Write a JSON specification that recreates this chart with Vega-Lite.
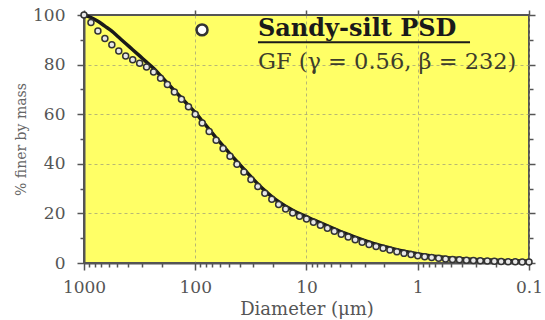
{
  "$schema": "https://vega.github.io/schema/vega-lite/v6.json",
  "width": 445,
  "height": 248,
  "autosize": {"type": "none"},
  "padding": {"left": 84, "top": 15, "right": 16, "bottom": 57},
  "background": "white",
  "config": {
    "view": {"fill": "#FFFF66", "stroke": "#555555", "strokeWidth": 2},
    "font": "DejaVu Serif"
  },
  "datasets": {
    "psd": [
      {"d": 1000, "data": 100, "gf": 100},
      {"d": 866, "data": 97, "gf": 99},
      {"d": 750, "data": 93.5, "gf": 97.5},
      {"d": 649, "data": 90.5, "gf": 95.5},
      {"d": 562, "data": 88, "gf": 93.5},
      {"d": 487, "data": 85.5, "gf": 91},
      {"d": 422, "data": 83.5, "gf": 88.5},
      {"d": 365, "data": 82, "gf": 86},
      {"d": 316, "data": 80.5, "gf": 83.5},
      {"d": 274, "data": 79, "gf": 81},
      {"d": 237, "data": 77, "gf": 78.5},
      {"d": 205, "data": 74.5, "gf": 75.5},
      {"d": 178, "data": 72, "gf": 72.5},
      {"d": 154, "data": 69, "gf": 69.5},
      {"d": 133, "data": 66, "gf": 66.5},
      {"d": 115, "data": 63, "gf": 63.5},
      {"d": 100, "data": 60, "gf": 60.7},
      {"d": 86.6, "data": 56.5, "gf": 57.3},
      {"d": 75, "data": 53, "gf": 53.9},
      {"d": 64.9, "data": 49.5, "gf": 50.5},
      {"d": 56.2, "data": 46.2, "gf": 47.2},
      {"d": 48.7, "data": 43, "gf": 44},
      {"d": 42.2, "data": 39.8, "gf": 40.9},
      {"d": 36.5, "data": 36.7, "gf": 37.8},
      {"d": 31.6, "data": 33.7, "gf": 34.8},
      {"d": 27.4, "data": 30.8, "gf": 31.9},
      {"d": 23.7, "data": 28.1, "gf": 29.2},
      {"d": 20.5, "data": 25.7, "gf": 26.8},
      {"d": 17.8, "data": 23.6, "gf": 24.7},
      {"d": 15.4, "data": 21.8, "gf": 22.9},
      {"d": 13.3, "data": 20.2, "gf": 21.3},
      {"d": 11.55, "data": 18.9, "gf": 19.9},
      {"d": 10, "data": 17.7, "gf": 18.7},
      {"d": 8.66, "data": 16.4, "gf": 17.4},
      {"d": 7.5, "data": 15.2, "gf": 16.2},
      {"d": 6.49, "data": 14, "gf": 15},
      {"d": 5.62, "data": 12.8, "gf": 13.8},
      {"d": 4.87, "data": 11.6, "gf": 12.6},
      {"d": 4.22, "data": 10.5, "gf": 11.5},
      {"d": 3.65, "data": 9.4, "gf": 10.4},
      {"d": 3.16, "data": 8.4, "gf": 9.4},
      {"d": 2.74, "data": 7.5, "gf": 8.5},
      {"d": 2.37, "data": 6.7, "gf": 7.6},
      {"d": 2.05, "data": 5.9, "gf": 6.8},
      {"d": 1.78, "data": 5.2, "gf": 6.1},
      {"d": 1.54, "data": 4.5, "gf": 5.4},
      {"d": 1.33, "data": 3.9, "gf": 4.8},
      {"d": 1.15, "data": 3.4, "gf": 4.2},
      {"d": 1, "data": 2.9, "gf": 3.7},
      {"d": 0.866, "data": 2.5, "gf": 3.2},
      {"d": 0.75, "data": 2.2, "gf": 2.8},
      {"d": 0.649, "data": 1.9, "gf": 2.5},
      {"d": 0.562, "data": 1.65, "gf": 2.2},
      {"d": 0.487, "data": 1.45, "gf": 2},
      {"d": 0.422, "data": 1.3, "gf": 1.8},
      {"d": 0.365, "data": 1.15, "gf": 1.6},
      {"d": 0.316, "data": 1, "gf": 1.45},
      {"d": 0.274, "data": 0.9, "gf": 1.3},
      {"d": 0.237, "data": 0.8, "gf": 1.2},
      {"d": 0.205, "data": 0.7, "gf": 1.1},
      {"d": 0.178, "data": 0.62, "gf": 1},
      {"d": 0.154, "data": 0.55, "gf": 0.95},
      {"d": 0.133, "data": 0.5, "gf": 0.9},
      {"d": 0.115, "data": 0.45, "gf": 0.85},
      {"d": 0.1, "data": 0.4, "gf": 0.8}
    ],
    "legpt": [{"d": 86.9, "pct": 94}],
    "legtitle": [{"d": 27.3, "pct": 94.5, "label": "Sandy-silt PSD"}],
    "legsub": [{"d": 27.3, "pct": 81, "label": "GF (γ = 0.56, β = 232)"}],
    "legline": [{"d": 27.3, "d2": 0.339, "pct": 89.0}]
  },
  "layer": [
    {
      "data": {"name": "psd"},
      "mark": {"type": "line", "color": "#1a1a1a", "strokeWidth": 3.5, "interpolate": "monotone"},
      "encoding": {
        "x": {
          "field": "d", "type": "quantitative",
          "scale": {"type": "log", "domain": [0.1, 1000], "reverse": true, "nice": false},
          "axis": {
            "orient": "bottom",
            "title": "Diameter (μm)",
            "values": [1000, 900, 800, 700, 600, 500, 400, 300, 200, 100, 90, 80, 70, 60, 50, 40, 30, 20, 10, 9, 8, 7, 6, 5, 4, 3, 2, 1, 0.9, 0.8, 0.7, 0.6, 0.5, 0.4, 0.3, 0.2, 0.1],
            "format": "~g",
            "labelExpr": "indexof(['1000','100','10','1','0.1'], datum.label) >= 0 ? datum.label : ''",
            "labelFont": "DejaVu Serif", "labelFontSize": 17, "labelColor": "#555555",
            "labelPadding": 9, "labelFlush": false, "labelOverlap": false,
            "tickColor": "#555555", "tickWidth": 1.5,
            "tickSize": {"condition": {"test": "indexof([1000, 100, 10, 1, 0.1], datum.value) >= 0", "value": 7}, "value": 4},
            "grid": true,
            "gridColor": "#9a9a7a", "gridDash": [3, 3], "gridWidth": 1,
            "gridOpacity": {"condition": {"test": "indexof([1000, 100, 10, 1, 0.1], datum.value) >= 0", "value": 0.7}, "value": 0},
            "domainColor": "#555555", "domainWidth": 2,
            "titleFont": "DejaVu Serif", "titleFontSize": 18, "titleFontWeight": "normal", "titleColor": "#555555",
            "titlePadding": 5
          }
        },
        "y": {
          "field": "gf", "type": "quantitative",
          "scale": {"domain": [0, 100], "nice": false, "zero": true},
          "axis": {
            "orient": "left",
            "title": "% finer by mass",
            "values": [0, 10, 20, 30, 40, 50, 60, 70, 80, 90, 100],
            "labelExpr": "datum.value % 20 === 0 ? datum.label : ''",
            "labelFont": "DejaVu Serif", "labelFontSize": 17, "labelColor": "#555555",
            "labelPadding": 12, "labelFlush": false, "labelOverlap": false,
            "tickColor": "#555555", "tickWidth": 1.5,
            "tickSize": {"condition": {"test": "datum.value % 20 === 0", "value": 7}, "value": 4},
            "grid": true,
            "gridColor": "#9a9a7a", "gridDash": [3, 3], "gridWidth": 1,
            "gridOpacity": {"condition": {"test": "datum.value % 20 === 0 && datum.value > 0 && datum.value < 100", "value": 0.7}, "value": 0},
            "domainColor": "#555555", "domainWidth": 2,
            "titleFont": "DejaVu Serif", "titleFontSize": 14, "titleFontWeight": "normal", "titleColor": "#666666",
            "titlePadding": 4
          }
        }
      }
    },
    {
      "data": {"name": "psd"},
      "mark": {"type": "circle", "size": 36, "fill": "#e8e8e8", "fillOpacity": 1, "stroke": "#333333", "strokeWidth": 1.5, "opacity": 1},
      "encoding": {
        "x": {"field": "d", "type": "quantitative", "scale": {"type": "log", "domain": [0.1, 1000], "reverse": true, "nice": false}, "axis": null},
        "y": {"field": "data", "type": "quantitative", "scale": {"domain": [0, 100], "nice": false}, "axis": null}
      }
    },
    {
      "data": {"name": "psd"},
      "mark": {"type": "point", "opacity": 0},
      "encoding": {
        "x": {
          "field": "d", "type": "quantitative",
          "scale": {"type": "log", "domain": [0.1, 1000], "reverse": true, "nice": false},
          "axis": {"orient": "top", "title": null, "values": [1000, 100, 10, 1, 0.1], "labels": false, "grid": false, "domain": false, "tickColor": "#555555", "tickWidth": 1.5, "tickSize": 5}
        },
        "y": {
          "field": "data", "type": "quantitative",
          "scale": {"domain": [0, 100], "nice": false},
          "axis": {"orient": "right", "title": null, "values": [0, 10, 20, 30, 40, 50, 60, 70, 80, 90, 100], "labels": false, "grid": false, "domain": false, "tickColor": "#555555", "tickWidth": 1.5,
            "tickSize": {"condition": {"test": "datum.value % 20 === 0", "value": 6}, "value": 4}}
        }
      }
    },
    {
      "data": {"name": "legpt"},
      "mark": {"type": "circle", "size": 120, "fill": "#ffffff", "fillOpacity": 1, "stroke": "#333333", "strokeWidth": 2.5, "opacity": 1},
      "encoding": {
        "x": {"field": "d", "type": "quantitative", "scale": {"type": "log", "domain": [0.1, 1000], "reverse": true, "nice": false}, "axis": null},
        "y": {"field": "pct", "type": "quantitative", "scale": {"domain": [0, 100], "nice": false}, "axis": null}
      }
    },
    {
      "data": {"name": "legtitle"},
      "mark": {"type": "text", "align": "left", "baseline": "middle", "font": "DejaVu Serif", "fontSize": 24, "fontWeight": "bold", "color": "#1a1a1a"},
      "encoding": {
        "x": {"field": "d", "type": "quantitative", "scale": {"type": "log", "domain": [0.1, 1000], "reverse": true, "nice": false}, "axis": null},
        "y": {"field": "pct", "type": "quantitative", "scale": {"domain": [0, 100], "nice": false}, "axis": null},
        "text": {"field": "label"}
      }
    },
    {
      "data": {"name": "legsub"},
      "mark": {"type": "text", "align": "left", "baseline": "middle", "font": "DejaVu Serif", "fontSize": 22.5, "color": "#3d3d2a"},
      "encoding": {
        "x": {"field": "d", "type": "quantitative", "scale": {"type": "log", "domain": [0.1, 1000], "reverse": true, "nice": false}, "axis": null},
        "y": {"field": "pct", "type": "quantitative", "scale": {"domain": [0, 100], "nice": false}, "axis": null},
        "text": {"field": "label"}
      }
    },
    {
      "data": {"name": "legline"},
      "mark": {"type": "rule", "color": "#1a1a1a", "strokeWidth": 2},
      "encoding": {
        "x": {"field": "d", "type": "quantitative", "scale": {"type": "log", "domain": [0.1, 1000], "reverse": true, "nice": false}, "axis": null},
        "x2": {"field": "d2"},
        "y": {"field": "pct", "type": "quantitative", "scale": {"domain": [0, 100], "nice": false}, "axis": null}
      }
    }
  ],
  "resolve": {"axis": {"x": "independent", "y": "independent"}}
}
